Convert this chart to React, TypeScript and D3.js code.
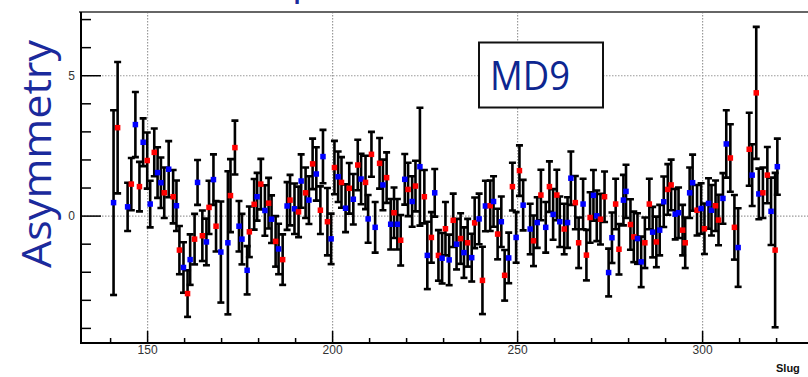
import React from "react";
import * as d3 from "d3";

// slug number of each point
const slugs = [
  140.8, 141.9, 144.6, 145.6, 146.7, 147.8, 148.8, 149.9, 150.7, 151.8,
  152.7, 153.6, 154.5, 155.7, 156.9, 157.8, 158.6, 159.7, 160.8, 161.5,
  162.7, 163.5, 164.8, 165.9, 166.6, 167.8, 168.5, 169.8, 171.7, 172.4,
  173.6, 174.7, 175.5, 176.9, 177.5, 178.8, 179.6, 180.6, 181.7, 182.7,
  183.5, 184.6, 185.4, 186.5, 187.7, 188.5, 189.7, 190.8, 191.5, 192.7,
  193.6, 194.6, 195.6, 196.7, 197.4, 198.6, 199.6, 200.5, 201.5, 202.4,
  203.5, 204.5, 205.6, 206.8, 207.7, 208.9, 209.6, 210.5, 211.5, 212.7,
  213.6, 214.6, 215.7, 216.6, 217.5, 218.4, 219.5, 220.4, 221.5, 222.4,
  223.6, 224.8, 225.6, 226.7, 227.6, 228.6, 229.6, 230.5, 231.5, 232.6,
  233.5, 234.6, 235.5, 236.5, 237.6, 238.4, 239.6, 240.5, 241.3, 242.6,
  243.5, 244.6, 245.6, 246.5, 247.6, 248.6, 249.6, 250.5, 251.5, 253.4,
  254.3, 255.3, 256.3, 257.6, 258.6, 259.6, 260.6, 261.4, 262.6, 263.5,
  264.4, 265.6, 266.5, 267.7, 268.6, 269.6, 270.5, 271.4, 272.4, 273.5,
  274.6, 275.5, 276.5, 277.4, 278.6, 279.3, 280.5, 281.4, 282.4, 283.4,
  284.4, 285.6, 286.5, 287.5, 288.4, 289.5, 290.6, 291.5, 292.6, 293.5,
  294.6, 295.3, 296.5, 297.3, 298.5, 299.6, 300.5, 301.6, 302.4, 303.5,
  304.3, 305.5, 306.4, 307.5, 308.6, 309.6, 312.6, 313.4, 314.5, 315.2,
  316.3, 317.5, 318.5, 319.6, 320.2,
];

// asymmetry per slug
const asym = [
  0.48, 3.15, 0.33, 1.14, 3.26, 1.05, 2.63, 1.98, 0.43, 2.27,
  1.55, 1.19, 0.83, 1.67, 0.69, 0.37, -1.21, -1.83, -2.76, -1.55,
  -0.82, 1.2, -0.7, -0.92, 0.31, 1.3, -0.36, -1.28, -0.95, 0.73,
  2.44, -0.36, -0.82, -1.93, -0.56, 0.42, 0.69, 1.14, 0.2, 0.46,
  -0.11, -0.9, -1.17, -1.55, 0.36, 0.57, 0.26, 0.15, 1.25, 0.83,
  0.57, 1.86, 1.5, 0.21, 2.12, -0.2, -0.81, 1.73, 1.4, 1.2,
  0.28, 0.99, 0.6, 1.82, 1.32, 1.2, -0.1, 2.2, -0.4, 1.88,
  1.11, 1.37, -0.29, 0.12, -0.29, -0.86, 1.31, 0.95, 0.52, 1.07,
  1.76, 0.69, -1.4, -0.76, 0.83, -1.4, -1.5, -0.45, -1.56, -0.15,
  -1.0, -0.8, -1.3, -0.95, -1.48, -0.24, -0.1, -2.29, 0.36, 0.37,
  0.52, -0.64, -0.2, -2.11, -1.49, 1.05, -0.76, 1.62, 0.39, -0.46,
  -0.88, -0.23, 0.75, -0.4, 1.05, 0.06, 0.75, -0.2, -0.46, -0.23,
  1.35, 0.48, -0.95, 0.43, -1.39, -0.05, 0.74, 0.01, -0.11, 0.69,
  -2.01, -0.77, 0.43, -1.18, 0.57, 0.88, -0.3, -0.74, -0.8, -1.63,
  -0.95, 0.43, -0.57, -0.92, -0.5, 0.51, 0.95, 1.11, 0.07, 0.12,
  -0.5, -0.95, 0.83, 1.19, 0.21, 0.27, -0.45, 0.45, 0.21, 0.37,
  -0.14, 0.63, 2.57, 2.07, -0.4, -1.12, 2.38, 1.46, 4.39, 0.79,
  0.83, 1.46, 0.17, -1.21, 1.76,
];

// error on each point
const errs = [
  3.29, 2.34, 0.86, 0.93, 1.16, 0.88, 0.85, 1.0, 0.83, 0.85,
  0.9, 0.9, 0.9, 1.0, 0.95, 0.9, 0.86, 0.9, 0.83, 0.9,
  0.9, 0.8, 0.9, 0.83, 0.95, 0.9, 0.9, 1.8, 2.55, 1.3,
  0.96, 0.9, 0.9, 0.86, 0.9, 0.9, 0.85, 0.9, 0.9, 0.9,
  0.85, 0.9, 0.9, 0.9, 0.85, 0.9, 0.9, 0.9, 0.95, 0.9,
  0.85, 0.9, 0.95, 0.85, 0.95, 1.2, 0.9, 0.95, 0.9, 0.9,
  0.85, 0.9, 0.9, 0.9, 0.9, 0.95, 0.85, 0.8, 0.9, 0.9,
  0.9, 0.9, 0.9, 0.9, 0.9, 0.9, 0.9, 0.95, 0.9, 0.9,
  2.1, 0.95, 1.2, 0.9, 0.85, 0.9, 0.9, 0.95, 0.9, 0.95,
  0.9, 0.9, 0.9, 0.85, 0.85, 0.9, 0.9, 1.2, 0.9, 0.9,
  0.9, 0.9, 0.9, 0.9, 0.9, 0.85, 0.9, 0.9, 0.9, 0.9,
  0.9, 0.9, 0.9, 0.9, 0.9, 0.9, 0.9, 0.9, 0.9, 0.9,
  0.95, 0.95, 0.9, 0.9, 0.9, 0.9, 0.9, 0.9, 0.9, 0.9,
  0.85, 0.9, 0.9, 0.9, 0.9, 0.95, 0.9, 0.9, 0.9, 0.9,
  0.9, 0.9, 0.9, 0.9, 0.9, 0.9, 0.9, 0.9, 0.9, 0.9,
  0.9, 0.9, 0.9, 1.0, 0.9, 0.9, 0.9, 0.9, 0.9, 0.9,
  0.9, 0.9, 1.2, 1.2, 1.15, 1.4, 1.3, 1.1, 2.35, 0.9,
  0.9, 1.0, 1.2, 2.75, 1.0,
];

// half-wave plate state: R = red markers, B = blue markers
const hwp = (
  "BRBRBRBRBR" + "BBRBRBRBRB" + "RBRBRBRBBR" + "RBBBRRBRBR" + "BRBRBRBRBR" +
  "BRBRBRBRBR" + "BRBRBRBRBR" + "BRBRBRBRBR" + "BRBRBRBRBR" + "BRBRBRBRBR" +
  "BRBRBRBRBB" + "RBRBRBRBRB" + "BRRBRRBBRR" + "BBRRBBRRBB" + "RRBRBBRRBB" +
  "RRBBRBRBBR" + "RBBRRBRBRB" + "RRBRB"
).split("");

const xMajor = [150, 200, 250, 300];
const yMajor = [0, 5];

export default function App() {
  const W = 808;
  const H = 377;

  const x = d3.scaleLinear().domain([132, 330]).range([81, 813.6]);
  const y = d3.scaleLinear().domain([-4.52, 7.27]).range([343, 12]);
  const color = d3.scaleOrdinal<string, string>().domain(["R", "B"]).range(["#ff0000", "#0000ff"]);

  const pts = slugs.map((s, i) => ({ s, v: asym[i], e: errs[i], c: hwp[i] }));
  const xMinor = d3.range(140, 330, 10);
  const yMinor = d3.range(-4, 8, 1);

  const [x0, x1] = x.range();
  const [yb, yt] = y.range();

  return (
    <svg
      width={W}
      height={H}
      style={{ position: "absolute", left: 0, top: 0, background: "#fff" }}
      fontFamily="'Liberation Sans', Arial, sans-serif"
    >
      <defs>
        <clipPath id="plot">
          <rect x={x0} y={yt} width={x1 - x0} height={yb - yt} />
        </clipPath>
      </defs>

      {/* cropped title above the frame */}
      <text x={292} y={-6} fontSize={40} fill="#1b2a9c" fontFamily="'Open Sans', sans-serif">
        p
      </text>

      {/* grid */}
      <g stroke="#9a9a9a" strokeWidth={1.2} strokeDasharray="1.5 1.5">
        {xMajor.map((t) => (
          <line key={"gx" + t} x1={x(t)} x2={x(t)} y1={yt} y2={yb} />
        ))}
        {yMajor.map((t) => (
          <line key={"gy" + t} x1={x0} x2={x1} y1={y(t)} y2={y(t)} />
        ))}
      </g>

      {/* points */}
      <g clipPath="url(#plot)">
        <g stroke="#000" strokeWidth={2.6}>
          {pts.map((p, i) => (
            <g key={"e" + i}>
              <line x1={x(p.s)} x2={x(p.s)} y1={y(p.v - p.e)} y2={y(p.v + p.e)} />
              <line x1={x(p.s) - 3.5} x2={x(p.s) + 3.5} y1={y(p.v - p.e)} y2={y(p.v - p.e)} />
              <line x1={x(p.s) - 3.5} x2={x(p.s) + 3.5} y1={y(p.v + p.e)} y2={y(p.v + p.e)} />
            </g>
          ))}
        </g>
        {pts.map((p, i) => (
          <rect key={"m" + i} x={x(p.s) - 2.75} y={y(p.v) - 2.75} width={5.5} height={5.5} fill={color(p.c)} />
        ))}
      </g>

      {/* frame and axes */}
      <line x1={x0 - 2} x2={x1} y1={yt} y2={yt} stroke="#666" strokeWidth={2} />
      <line x1={x0} x2={x0} y1={yt} y2={yb} stroke="#000" strokeWidth={2} />
      <line x1={x0 - 1} x2={x1} y1={yb} y2={yb} stroke="#000" strokeWidth={2} />

      <g stroke="#000" strokeWidth={1.5}>
        {yMinor.map((t) => (
          <line key={"yt" + t} x1={x0} x2={x0 + (yMajor.includes(t) ? 20 : 10)} y1={y(t)} y2={y(t)} />
        ))}
        {xMinor.map((t) => (
          <line key={"xt" + t} x1={x(t)} x2={x(t)} y1={yb} y2={yb - (xMajor.includes(t) ? 12 : 5)} />
        ))}
      </g>

      {/* tick labels */}
      <g fontSize={12} fill="#333">
        {xMajor.map((t) => (
          <text key={"xl" + t} x={x(t)} y={yb + 11} textAnchor="middle">
            {t}
          </text>
        ))}
        {yMajor.map((t) => (
          <text key={"yl" + t} x={x0 - 6} y={y(t) + 4} textAnchor="end">
            {t}
          </text>
        ))}
      </g>
      <text x={776} y={372} fontSize={11} fontWeight="bold" fill="#111">
        Slug
      </text>

      {/* y title */}
      <text
        transform="translate(51,154) rotate(-90)"
        textAnchor="middle"
        fontSize={40}
        fill="#1b2a9c"
        fontFamily="'Open Sans', sans-serif"
        textLength={228}
        lengthAdjust="spacingAndGlyphs"
      >
        Asymmetry
      </text>

      {/* MD9 label box */}
      <rect x={479} y={42.5} width={124} height={65} fill="#fff" stroke="#111" strokeWidth={2} />
      <text
        x={490}
        y={90}
        fontSize={40}
        fill="#0d2690"
        fontFamily="'Open Sans', sans-serif"
        textLength={80}
        lengthAdjust="spacingAndGlyphs"
      >
        MD9
      </text>
    </svg>
  );
}
